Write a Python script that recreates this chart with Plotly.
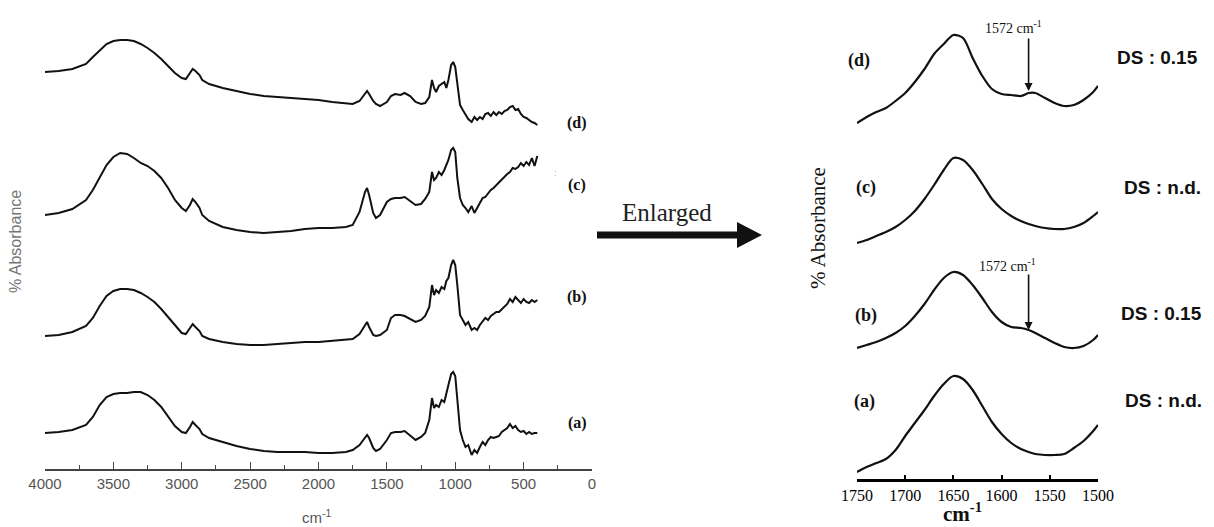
import plotly.graph_objects as go

W, H = 1214, 527

# ---------------- Left panel: full FTIR spectra (arbitrary absorbance units, stacked) ----------------
WN = [4000, 3900, 3800, 3700, 3650, 3600, 3550, 3500, 3450, 3400,
      3350, 3300, 3250, 3200, 3150, 3100, 3050, 3000, 2970, 2940,
      2920, 2900, 2870, 2850, 2800, 2700, 2600, 2500, 2400, 2300,
      2200, 2100, 2000, 1900, 1800, 1750, 1700, 1660, 1645, 1630,
      1600, 1580, 1550, 1500, 1470, 1440, 1400, 1370, 1330, 1290,
      1250, 1220, 1190, 1170, 1155, 1140, 1120, 1100, 1080, 1065,
      1050, 1030, 1015, 1000, 985, 965, 945, 925, 905, 880,
      860, 840, 820, 800, 780, 760, 740, 720, 700, 680,
      660, 640, 620, 600, 580, 560, 540, 520, 500, 480,
      460, 440, 420, 400]

SPEC_D = [397, 398, 400, 405, 412, 419, 425, 428, 429, 429,
          428, 425, 421, 416, 410, 403, 396, 391, 390, 396,
          400, 398, 394, 389, 385, 381, 378, 375, 373, 372,
          371, 370, 369, 367, 366, 365, 368, 375, 378, 375,
          368, 365, 363, 367, 373, 375, 374, 376, 373, 367,
          365, 366, 372, 389, 381, 377, 383, 385, 387, 381,
          389, 404, 407, 402, 387, 364, 359, 355, 350, 347,
          352, 349, 352, 350, 355, 356, 353, 357, 354, 357,
          355, 358, 359, 362, 363, 359, 360, 355, 352, 351,
          349, 347, 346, 344]

SPEC_C = [254, 256, 260, 269, 279, 292, 304, 312, 316, 315,
          311, 306, 303, 298, 291, 281, 269, 261, 258, 264,
          270, 267, 261, 254, 248, 242, 239, 237, 236, 237,
          238, 240, 241, 241, 242, 244, 257, 277, 281, 274,
          256, 251, 254, 267, 270, 271, 271, 272, 268, 264,
          265, 270, 277, 297, 289, 291, 297, 294, 299, 304,
          309, 319, 321, 317, 291, 271, 264, 261, 257, 263,
          256, 261, 266, 271, 272, 276, 279, 281, 284, 286,
          289, 293, 295, 297, 301, 300, 302, 306, 303, 307,
          304, 311, 303, 313]

SPEC_B = [133, 134, 137, 143, 151, 163, 173, 178, 180, 180,
          179, 176, 172, 167, 160, 152, 143, 136, 135, 141,
          145, 142, 138, 133, 130, 127, 125, 124, 124, 125,
          126, 127, 127, 128, 129, 130, 135, 144, 147, 142,
          134, 133, 134, 139, 151, 154, 154, 153, 150, 147,
          149, 153, 162, 184, 174, 179, 176, 182, 180, 188,
          191, 204, 209, 204, 184, 154, 149, 144, 147, 139,
          141, 139, 144, 147, 151, 149, 153, 155, 157, 157,
          160, 163, 165, 170, 167, 172, 169, 166, 170, 167,
          166, 169, 167, 169]

SPEC_A = [36, 37, 39, 44, 52, 64, 72, 75, 76, 76,
          77, 77, 74, 69, 62, 52, 43, 37, 36, 42,
          47, 44, 40, 35, 31, 27, 23, 20, 18, 17,
          17, 17, 16, 16, 17, 19, 24, 32, 34, 31,
          21, 18, 20, 29, 36, 37, 37, 38, 33, 29,
          32, 36, 49, 71, 61, 64, 62, 69, 67, 77,
          84, 95, 97, 93, 69, 39, 29, 22, 24, 14,
          19, 16, 22, 27, 24, 29, 32, 31, 32, 33,
          37, 39, 41, 45, 41, 43, 39, 37, 38, 35,
          37, 35, 36, 36]

LEFT_LABELS = ["(d)", "(c)", "(b)", "(a)"]
LEFT_LABEL_Y = [346, 284, 172, 46]
LEFT_TICKS = [4000, 3500, 3000, 2500, 2000, 1500, 1000, 500, 0]

# ---------------- Right panel: enlarged 1750-1500 cm-1 ----------------
WN_ZOOM = [1750, 1740, 1730, 1720, 1710, 1700, 1690, 1680, 1670, 1660,
           1650, 1640, 1630, 1620, 1610, 1600, 1590, 1580, 1572, 1565,
           1555, 1545, 1535, 1525, 1515, 1505, 1500]

ZOOM_D = [356, 362, 367, 371, 378, 386, 397, 410, 425, 435,
          444, 441, 421, 403, 390, 385, 384, 383, 386, 386,
          381, 376, 373, 374, 379, 387, 393]
ZOOM_C = [236, 239, 243, 247, 252, 259, 268, 280, 294, 309,
          321, 319, 309, 295, 280, 270, 263, 258, 255, 253,
          251, 250, 250, 252, 256, 263, 267]
ZOOM_B = [131, 134, 137, 141, 146, 153, 163, 175, 189, 201,
          207, 204, 194, 181, 167, 157, 152, 151, 149, 146,
          141, 136, 132, 131, 133, 139, 144]
ZOOM_A = [7, 12, 16, 20, 29, 43, 56, 69, 83, 95,
          103, 100, 89, 73, 57, 45, 36, 30, 27, 25,
          24, 24, 25, 31, 38, 48, 54]

RIGHT_TICKS = [1750, 1700, 1650, 1600, 1550, 1500]
DS_TEXT = ["DS : 0.15", "DS : n.d.", "DS : 0.15", "DS : n.d."]
MARK_WN = 1572


def px(x):
    return x / W


def py(y):
    return 1 - y / H


SERIF = "Liberation Serif, Times New Roman, serif"
SANS = "Liberation Sans, Arial, sans-serif"
INK = "#111111"

fig = go.Figure()

for vals in (SPEC_D, SPEC_C, SPEC_B, SPEC_A):
    fig.add_trace(go.Scatter(x=WN, y=vals, mode="lines", xaxis="x", yaxis="y",
                             line=dict(color=INK, width=2), hoverinfo="skip"))

for vals in (ZOOM_D, ZOOM_C, ZOOM_B, ZOOM_A):
    fig.add_trace(go.Scatter(x=WN_ZOOM, y=vals, mode="lines", xaxis="x2", yaxis="y2",
                             line=dict(color=INK, width=2.2, shape="spline", smoothing=0.8),
                             hoverinfo="skip"))

fig.update_layout(
    template="none",
    width=W, height=H, autosize=False,
    margin=dict(l=0, r=0, t=0, b=0, pad=0, autoexpand=False),
    paper_bgcolor="white", plot_bgcolor="white",
    showlegend=False,
    xaxis=dict(domain=[px(45), px(592)], range=[4000, 0], anchor="y", automargin=False,
               showline=True, linecolor="#444", linewidth=1.5,
               ticks="inside", ticklen=7, tickwidth=1.2, tickcolor="#444",
               tickvals=LEFT_TICKS, ticktext=[str(t) for t in LEFT_TICKS],
               tickfont=dict(family=SANS, size=15, color="#555"),
               minor=dict(dtick=250, ticks="inside", ticklen=4, tickwidth=1.2, tickcolor="#444"),
               showgrid=False, zeroline=False),
    yaxis=dict(domain=[py(469), 1], range=[0, 469], anchor="x", automargin=False,
               visible=False, showgrid=False, zeroline=False),
    xaxis2=dict(domain=[px(857), px(1098)], range=[1750, 1500], anchor="y2", automargin=False,
                showline=True, linecolor="#000", linewidth=3,
                ticks="inside", ticklen=4, tickwidth=2, tickcolor="#000",
                tickvals=RIGHT_TICKS, ticktext=[str(t) for t in RIGHT_TICKS],
                tickfont=dict(family=SERIF, size=16, color="#000"),
                showgrid=False, zeroline=False),
    yaxis2=dict(domain=[py(479), 1], range=[0, 479], anchor="x2", automargin=False,
                visible=False, showgrid=False, zeroline=False),
)


def note(x, y, text, font, **kw):
    d = dict(x=x, y=y, xref="paper", yref="paper", text=text, showarrow=False,
             xanchor="center", yanchor="middle", font=font)
    d.update(kw)
    return d


ann = []
# left panel labels
for lab, yv in zip(LEFT_LABELS, LEFT_LABEL_Y):
    ann.append(dict(x=108, y=yv, xref="x", yref="y", text="<b>" + lab + "</b>", showarrow=False,
                    xanchor="center", yanchor="middle",
                    font=dict(family=SERIF, size=16, color=INK)))
ann.append(note(px(555), py(173), ":", dict(family=SANS, size=9, color="#aaa")))
# left axis titles
ann.append(note(px(15), py(242), "% Absorbance", dict(family=SANS, size=16, color="#777"),
                textangle=-90))
ann.append(note(px(317), py(516), "cm<sup>-1</sup>", dict(family=SANS, size=15, color="#555")))
# Enlarged
ann.append(note(px(667), py(212), "Enlarged", dict(family=SERIF, size=25, color="#222")))
# right panel labels
right_lab_pos = [(859, 60), (866, 187), (866, 315), (864, 401)]
for lab, (xx, yy) in zip(LEFT_LABELS, right_lab_pos):
    ann.append(note(px(xx), py(yy), "<b>" + lab + "</b>", dict(family=SERIF, size=18, color=INK)))
ds_pos = [(1157, 57), (1162, 187), (1161, 313), (1163, 400)]
for t, (xx, yy) in zip(DS_TEXT, ds_pos):
    ann.append(note(px(xx), py(yy), "<b>" + t + "</b>", dict(family=SANS, size=19, color=INK)))
ann.append(note(px(818), py(228), "% Absorbance", dict(family=SERIF, size=21, color=INK),
                textangle=-90))
ann.append(note(px(962), py(512), "<b>cm<sup>-1</sup></b>", dict(family=SERIF, size=21, color=INK)))
# 1572 cm-1 markers
d_tip = ZOOM_D[WN_ZOOM.index(MARK_WN)]
b_tip = ZOOM_B[WN_ZOOM.index(MARK_WN)]
for tip, ay, txt_xy in ((d_tip + 2, -54, (1588, 452)), (b_tip, -57, (1594, 214))):
    ann.append(dict(x=MARK_WN, y=tip, xref="x2", yref="y2", ax=0, ay=ay, text="",
                    showarrow=True, arrowhead=2, arrowsize=1, arrowwidth=1.6,
                    arrowcolor=INK, standoff=0))
    ann.append(dict(x=txt_xy[0], y=txt_xy[1], xref="x2", yref="y2",
                    text=f"{MARK_WN} cm<sup>-1</sup>", showarrow=False,
                    xanchor="center", yanchor="middle",
                    font=dict(family=SERIF, size=14, color=INK)))
fig.update_layout(annotations=ann)

# big "Enlarged" arrow
path = (f"M {px(597)},{py(231.5)} L {px(737)},{py(231.5)} L {px(737)},{py(222)} "
        f"L {px(762)},{py(235)} L {px(737)},{py(248)} L {px(737)},{py(238.5)} "
        f"L {px(597)},{py(238.5)} Z")
fig.add_shape(type="path", path=path, xref="paper", yref="paper",
              fillcolor="#111", line=dict(width=0))

fig.write_html(
    "out.html",
    config={"responsive": False, "displayModeBar": False},
    post_script="document.body.style.margin='0';document.body.style.overflow='hidden';"
                "document.documentElement.style.overflow='hidden';",
)
